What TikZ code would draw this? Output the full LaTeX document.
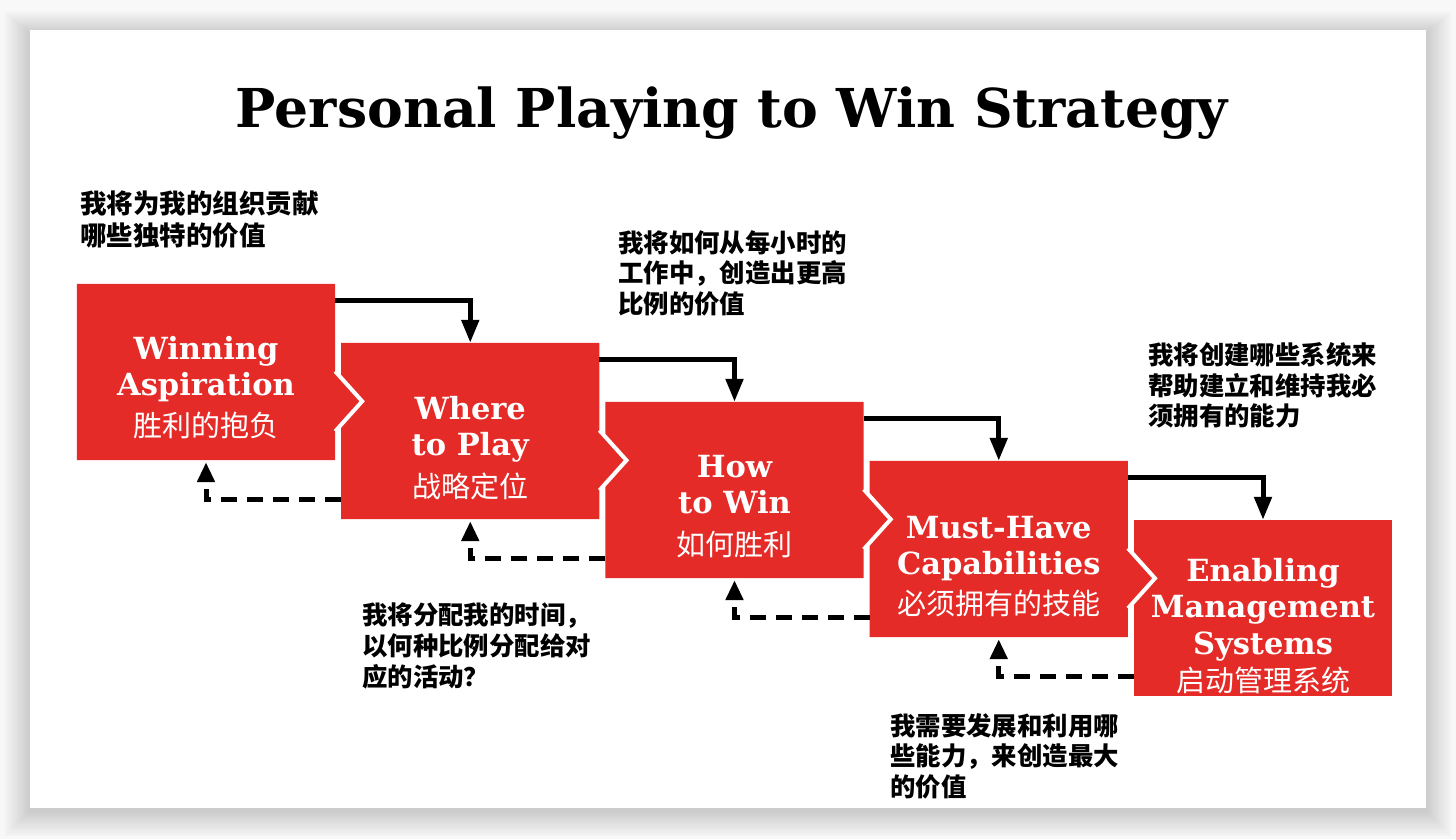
\documentclass[tikz,border=0pt]{standalone}
\usepackage{fontspec}
\setmainfont{DejaVu Serif}
\newfontfamily\cjk{Noto Sans CJK SC}
\usetikzlibrary{arrows.meta,calc}
\definecolor{boxred}{HTML}{E42B27}
\definecolor{bgc}{HTML}{F8F8F8}
\tikzset{
  boxn/.style={minimum width=258pt, minimum height=176pt, inner sep=0pt, draw=none},
  boxlabel/.style={anchor=north, align=center, text=white, inner sep=0pt,
     font=\bfseries\fontsize{30.5}{36.5}\selectfont},
  note/.style={anchor=north west, align=left, inner sep=0pt, text=black,
     font=\cjk\bfseries\fontsize{25.4}{30.8}\selectfont},
  fwd/.style={draw=black, line width=5pt, -{Triangle[length=23pt,width=17pt]}},
  back/.style={draw=black, line width=5pt, dash pattern=on 16pt off 10pt,
     -{Triangle[length=20pt,width=17pt]}, shorten >=2pt},
  gapline/.style={draw=white, line width=4pt, line join=miter, line cap=butt},
}
\newcommand{\zhbox}[1]{{\cjk\mdseries\fontsize{29}{36}\selectfont #1}}
\begin{document}
\begin{tikzpicture}[x=1pt,y=-1pt]
\useasboundingbox (0,0) rectangle (1456,839);
\fill[bgc] (0,0) rectangle (1456,839);
% soft shadow of the card
\foreach \k in {1,...,22}{
  \fill[black, opacity=0.0065] (30-1.2*\k,30-1.0*\k+3) rectangle (1426+1.2*\k,808+1.2*\k+3);
}
\fill[white] (30,30) rectangle (1426,808);

% title
\node[anchor=base, inner sep=0pt, font=\bfseries\fontsize{53.6}{60}\selectfont] (title) at (732,127) {Personal Playing to Win Strategy};

% box placeholders
\node[boxn] (b1) at (206,372) {};
\node[boxn] (b2) at (470.25,431) {};
\node[boxn] (b3) at (734.5,490) {};
\node[boxn] (b4) at (998.75,549) {};
\node[boxn] (b5) at (1263,608) {};

% red shapes, drawn right to left so that each tip lies over the next box
\fill[boxred] (b5.north west) rectangle (b5.south east);
\foreach \i in {4,3,2,1}{
  \fill[boxred] (b\i.north west) -- (b\i.north east) -- ($(b\i.north east)+(0,87.5)$)
     -- ($(b\i.north east)+(27,117.5)$) -- ($(b\i.north east)+(0,147.5)$)
     -- (b\i.south east) -- (b\i.south west) -- cycle;
  \draw[gapline] ($(b\i.north east)+(0,87.5)$) -- ($(b\i.north east)+(27,117.5)$) -- ($(b\i.north east)+(0,147.5)$);
}

% box labels
\node[boxlabel] (l1) at (206,336) {Winning\\Aspiration\\[4pt]\zhbox{胜利的抱负}};
\node[boxlabel] (l2) at (470.25,396) {Where\\to Play\\[5pt]\zhbox{战略定位}};
\node[boxlabel] (l3) at (734.5,455) {How\\to Win\\[5pt]\zhbox{如何胜利}};
\node[boxlabel] (l4) at (998.75,516) {Must-Have\\Capabilities\\[3pt]\zhbox{必须拥有的技能}};
\node[boxlabel] (l5) at (1263,558) {Enabling\\Management\\Systems\\[1pt]\zhbox{启动管理系统}};

% forward connectors
\foreach \i/\j in {1/2,2/3,3/4,4/5}{
  \draw[fwd] ($(b\i.north east)+(0,17)$) -| (b\j.north);
}
% feedback connectors
\foreach \i/\j in {1/2,2/3,3/4,4/5}{
  \draw[back] ($(b\j.north west)+(0,157)$) -| (b\i.south);
}

% notes
\node[note, font=\cjk\bfseries\fontsize{26.5}{32}\selectfont] (n1) at (80,190) {我将为我的组织贡献\\哪些独特的价值};
\node[note] (n2) at (618,230) {我将如何从每小时的\\工作中，创造出更高\\比例的价值};
\node[note] (n3) at (1148,342) {我将创建哪些系统来\\帮助建立和维持我必\\须拥有的能力};
\node[note] (n4) at (362,603) {我将分配我的时间，\\以何种比例分配给对\\应的活动？};
\node[note] (n5) at (890,713) {我需要发展和利用哪\\些能力，来创造最大\\的价值};
\end{tikzpicture}
\end{document}
